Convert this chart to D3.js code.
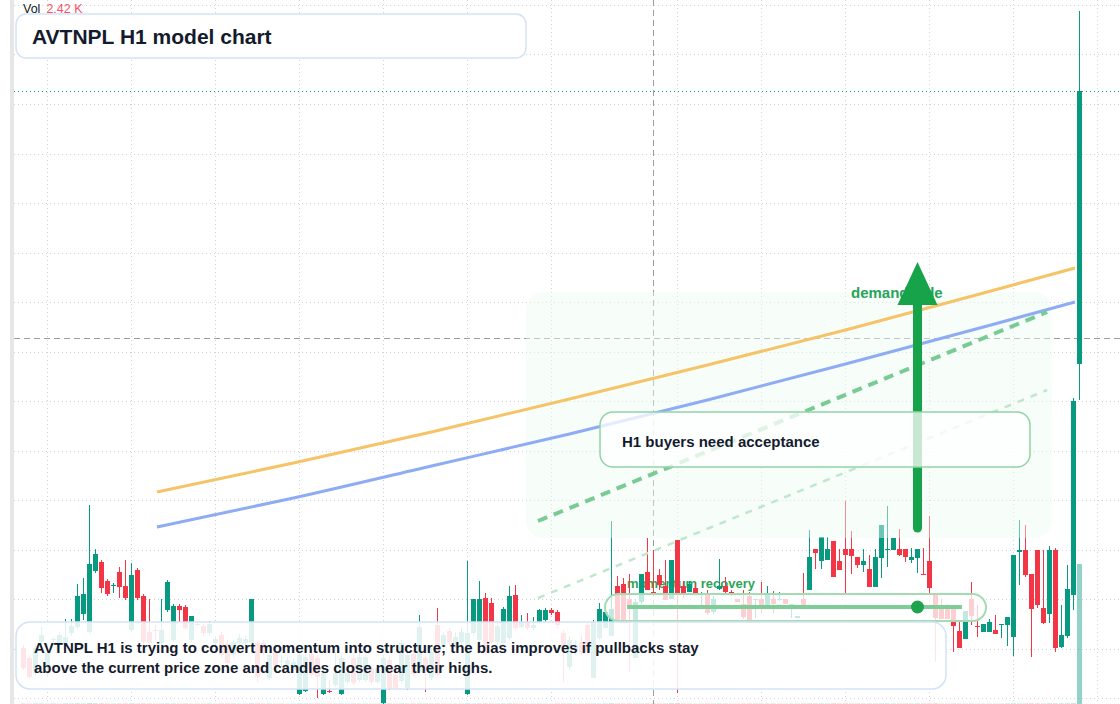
<!DOCTYPE html>
<html><head><meta charset="utf-8">
<script src="https://cdn.jsdelivr.net/npm/d3@7"></script>
<style>
html,body{margin:0;padding:0;background:#fff;overflow:hidden}
svg{display:block}
text{font-family:"Liberation Sans",Arial,Helvetica,sans-serif}
</style>
</head><body>
<svg id="c" width="1120" height="704"></svg>
<script>
// ---- data (hourly bars, oldest first) ----
const open = [
550,540,525,556,533,558,555,553,565,571,
584,566,627,636,617,612,626,612,568,628,
602,566,568,555,588,558,592,591,558,573,
572,565,555,563,555,543,555,555,555,555,
555,520,545,536,533,528,504,507,544,540,
504,507,513,504,516,540,518,518,530,516,
495,538,523,517,510,544,526,540,520,573,
551,567,553,556,504,565,558,600,595,556,
555,560,603,571,576,570,576,578,588,586,
565,531,548,556,573,520,560,570,562,612,
614,599,540,596,626,606,623,612,599,658,
612,606,610,603,604,586,609,612,606,599,
594,602,598,599,590,599,598,599,593,580,
599,608,649,637,638,657,637,649,649,641,
633,629,611,640,648,648,649,649,638,640,
624,637,603,591,593,593,567,559,599,572,
566,566,568,573,573,561,646,648,624,648,
590,584,648,551,562,603,834];
const close = [
530,521,550,563,545,559,563,561,572,602,
604,634,644,610,604,613,611,600,623,600,
556,555,567,568,616,592,588,570,582,574,
565,574,559,543,535,556,560,559,599,521,
546,543,533,537,538,536,543,541,523,521,
525,506,525,540,525,515,541,541,516,530,
540,510,510,555,543,524,571,528,546,523,
563,556,561,566,565,599,599,545,556,572,
589,602,570,576,570,573,588,588,585,573,
551,558,553,546,546,575,589,586,589,578,
575,590,596,624,608,604,613,598,638,604,
604,614,604,604,585,599,612,606,603,596,
581,575,599,590,604,594,599,594,594,582,
590,641,645,661,649,621,628,643,642,633,
637,611,641,673,649,660,643,641,641,649,
623,610,580,579,579,572,550,587,582,571,
574,576,564,574,581,643,648,623,589,593,
575,648,550,563,609,797,1107];
const high = [
553,543,553,571,553,561,566,579,579,614,
620,693,649,638,619,615,631,638,635,630,
604,599,573,599,618,594,594,593,582,575,
574,577,562,566,558,558,564,562,599,558,
558,546,548,543,541,540,548,544,548,543,
528,518,546,543,528,543,548,543,533,533,
543,541,526,558,546,548,583,543,550,590,
566,570,566,570,637,599,617,605,600,576,
591,612,613,583,585,581,589,590,590,588,
568,562,558,563,576,578,595,595,677,622,
620,624,599,624,660,648,629,638,638,658,
617,617,615,606,608,602,639,621,608,599,
608,606,599,616,612,607,606,599,594,582,
625,668,649,661,661,657,649,697,667,641,
649,643,649,673,692,660,669,649,650,649,
650,682,603,599,594,593,576,587,616,593,
574,579,583,574,581,643,678,673,624,648,
648,652,650,593,633,800,1187];
const low = [
528,519,523,550,521,556,552,550,562,569,
578,564,625,605,602,605,600,598,566,598,
554,553,558,553,586,556,576,568,556,572,
562,562,553,540,533,540,553,553,553,516,
543,518,530,531,530,525,503,506,520,500,
503,505,511,503,514,513,516,516,514,514,
494,508,509,514,508,522,524,506,518,521,
548,553,550,553,503,562,556,543,554,553,
553,558,568,570,568,568,574,576,583,570,
516,528,543,543,543,520,558,570,562,576,
575,526,540,594,608,602,608,598,599,505,
600,606,603,590,583,584,608,604,602,596,
579,575,580,585,590,585,597,594,580,580,
590,608,629,629,638,621,628,605,624,630,
626,611,611,620,631,648,642,636,635,625,
623,604,536,579,579,546,550,559,573,561,
566,566,564,560,552,542,613,621,541,590,
574,575,546,550,560,588,798];
const volume = [
5,4,6,5,4,5,3,6,5,7,
6,9,7,6,5,4,5,6,7,5,
6,5,4,5,6,5,4,5,4,3,
4,5,4,5,6,5,4,4,7,6,
5,5,4,4,3,4,6,5,5,6,
4,4,5,5,4,5,5,4,4,4,
6,5,4,5,5,5,6,5,5,6,
4,4,4,4,7,5,6,6,5,4,
5,6,5,4,4,4,5,4,4,5,
6,5,4,4,5,5,5,5,8,5,
5,6,5,5,6,5,5,5,8,9,
5,4,4,4,5,5,6,5,4,4,
5,6,5,5,5,5,4,4,5,4,
5,6,6,6,6,7,5,7,6,5,
5,6,6,6,6,5,5,5,5,6,
5,6,7,4,4,5,5,4,5,4,
4,4,4,4,5,7,6,6,7,6,
6,7,7,6,7,9,2420];
const lastVolumeLabel = "2.42 K";

// moving averages (sampled along their path: bar index, price)
const maIndex  = [22.25, 45, 68, 91, 114, 137, 160, 175.25];
const maOrange = [706, 735, 766, 799, 833, 868, 905, 930];
const maBlue   = [671, 700, 732, 764, 798, 834, 871, 896];

// grid ticks
const timeGridTicks  = [4, 18, 32, 46, 60, 74, 88, 109, 123, 137, 151, 165, 179];
const priceGridTicks = [500, 549.5, 599, 648.5, 698, 747.5, 797, 846.5, 896, 945.5, 995, 1044.5, 1094, 1143.5, 1193];

// annotations (bar index, price)
const crosshair   = {bar: 105, price: 860};
const demandZone  = {bar0: 83.75, bar1: 171.4, price0: 660, price1: 906};
const trendMain   = [[85.75, 677], [170.6, 886]];
const trendLight  = [[85.75, 600], [170.6, 808]];
const demandArrow = {bar: 149, from: 670, to: 936};
const recoveryLine = {bar0: 100.6, bar1: 156.4, price: 591, dotBar: 149};

const titleText = "AVTNPL H1 model chart";
const noteText = ["AVTNPL H1 is trying to convert momentum into structure; the bias improves if pullbacks stay",
                  "above the current price zone and candles close near their highs."];
const calloutText = "H1 buyers need acceptance";
const zoneLabel = "demand side";
const recoveryLabel = "momentum recovery";

// ---- drawing ----
const W = 1120, H = 704;
const UP = "#089981", DOWN = "#f23645";
const svg = d3.select("#c");
const n = open.length;
const x = d3.scaleLinear().domain([0, n - 1]).range([23.5, 1079.5]);
const y = d3.scaleLinear().domain([494, 1198]).range([704, 0]);
const yVol = d3.scaleLinear().domain([0, d3.max(volume)]).range([704, 564]);
const bars = d3.range(n).map(i => ({i, o: open[i], h: high[i], l: low[i], c: close[i], v: volume[i]}));

svg.append("rect").attr("width", W).attr("height", H).attr("fill", "#fff");
svg.append("rect").attr("x", 10).attr("y", 0).attr("width", 4).attr("height", H).attr("fill", "#e6e6e6");

const grid = svg.append("g").attr("stroke", "#cfd2d6").attr("stroke-dasharray", "1,3").attr("shape-rendering", "crispEdges");
grid.selectAll(".gx").data(timeGridTicks).join("line")
  .attr("x1", d => x(d)).attr("x2", d => x(d)).attr("y1", 0).attr("y2", H);
grid.selectAll(".gy").data(priceGridTicks).join("line")
  .attr("x1", 14).attr("x2", W).attr("y1", d => Math.round(y(d)) + 0.5).attr("y2", d => Math.round(y(d)) + 0.5);

// crosshair
const ch = svg.append("g").attr("stroke", "#9a9da3").attr("stroke-dasharray", "6,4");
ch.append("line").attr("x1", x(crosshair.bar)).attr("x2", x(crosshair.bar)).attr("y1", 0).attr("y2", H);
ch.append("line").attr("x1", 14).attr("x2", W).attr("y1", y(crosshair.price) + 0.5).attr("y2", y(crosshair.price) + 0.5);

// volume
svg.append("g").selectAll("rect").data(bars).join("rect")
  .attr("x", d => x(d.i) - 2.5).attr("width", 5)
  .attr("y", d => yVol(d.v)).attr("height", d => yVol(0) - yVol(d.v))
  .attr("fill", d => d.c >= d.o ? UP : DOWN).attr("fill-opacity", 0.44);

// label under candles
svg.append("text").attr("x", x(recoveryLine.bar0)).attr("y", 588)
  .attr("font-size", 13).attr("font-weight", 700).attr("fill", "#2ea55a").text(recoveryLabel);

// candles
const cg = svg.append("g").attr("shape-rendering", "crispEdges");
cg.selectAll("line").data(bars).join("line")
  .attr("x1", d => x(d.i)).attr("x2", d => x(d.i))
  .attr("y1", d => y(Math.max(d.h, d.o, d.c))).attr("y2", d => y(Math.min(d.l, d.o, d.c)))
  .attr("stroke", d => d.c >= d.o ? UP : DOWN).attr("stroke-width", 1);
cg.selectAll("rect").data(bars).join("rect")
  .attr("x", d => x(d.i) - 2.5).attr("width", 5)
  .attr("y", d => y(Math.max(d.o, d.c)))
  .attr("height", d => Math.max(1, y(Math.min(d.o, d.c)) - y(Math.max(d.o, d.c))))
  .attr("fill", d => d.c >= d.o ? UP : DOWN);

// demand zone
svg.append("rect")
  .attr("x", x(demandZone.bar0)).attr("width", x(demandZone.bar1) - x(demandZone.bar0))
  .attr("y", y(demandZone.price1)).attr("height", y(demandZone.price0) - y(demandZone.price1))
  .attr("rx", 18).attr("fill", "#eefbf2").attr("fill-opacity", 0.45);

// moving averages
const maLine = d3.line().x(d => x(d[0])).y(d => y(d[1])).curve(d3.curveMonotoneX);
svg.append("path").attr("d", maLine(maIndex.map((b, k) => [b, maOrange[k]])))
  .attr("fill", "none").attr("stroke", "#f6c367").attr("stroke-width", 3);
svg.append("path").attr("d", maLine(maIndex.map((b, k) => [b, maBlue[k]])))
  .attr("fill", "none").attr("stroke", "#8eacf4").attr("stroke-width", 3);

// trend projections
const tl = d3.line().x(d => x(d[0])).y(d => y(d[1]));
svg.append("path").attr("d", tl(trendLight)).attr("fill", "none")
  .attr("stroke", "#bfe7cc").attr("stroke-width", 2.5).attr("stroke-dasharray", "7,7");
svg.append("path").attr("d", tl(trendMain)).attr("fill", "none")
  .attr("stroke", "#78cc93").attr("stroke-width", 4).attr("stroke-dasharray", "10,7");

// demand label + arrow
svg.append("text").attr("x", 851).attr("y", 298).attr("font-size", 15).attr("font-weight", 700)
  .attr("fill", "#27a35a").text(zoneLabel);
const ax = x(demandArrow.bar);
svg.append("line").attr("x1", ax).attr("x2", ax).attr("y1", y(demandArrow.from)).attr("y2", y(demandArrow.to) + 40)
  .attr("stroke", "#17a34a").attr("stroke-width", 9).attr("stroke-linecap", "round");
svg.append("path")
  .attr("d", `M${ax},${y(demandArrow.to)} L${ax + 20},${y(demandArrow.to) + 43} L${ax - 20},${y(demandArrow.to) + 43} Z`)
  .attr("fill", "#17a34a");

// last price line
svg.append("line").attr("x1", 14).attr("x2", W).attr("y1", y(close[n - 1]) + 0.5).attr("y2", y(close[n - 1]) + 0.5)
  .attr("stroke", UP).attr("stroke-dasharray", "1,3");

// recovery pill
svg.append("rect").attr("x", 605).attr("y", 594).attr("width", 381).attr("height", 27).attr("rx", 13.5)
  .attr("fill", "#fff").attr("fill-opacity", 0.76).attr("stroke", "#a3dbb3").attr("stroke-width", 2);
svg.append("line").attr("x1", x(recoveryLine.bar0)).attr("x2", x(recoveryLine.bar1))
  .attr("y1", y(recoveryLine.price)).attr("y2", y(recoveryLine.price))
  .attr("stroke", "#7fcd96").attr("stroke-width", 4);
svg.append("circle").attr("cx", x(recoveryLine.dotBar)).attr("cy", y(recoveryLine.price)).attr("r", 6.5)
  .attr("fill", "#1fa34c");

// callout box
svg.append("rect").attr("x", 600).attr("y", 412).attr("width", 430).attr("height", 55).attr("rx", 13)
  .attr("fill", "#fff").attr("fill-opacity", 0.76).attr("stroke", "#93d4a6").attr("stroke-width", 1.5);
svg.append("text").attr("x", 622).attr("y", 447).attr("font-size", 15).attr("font-weight", 700)
  .attr("fill", "#141b2d").text(calloutText);

// note box
svg.append("rect").attr("x", 16).attr("y", 622).attr("width", 930).attr("height", 67).attr("rx", 14)
  .attr("fill", "#fff").attr("fill-opacity", 0.87).attr("stroke", "#d3e2f7").attr("stroke-width", 1.5);
svg.append("g").selectAll("text").data(noteText).join("text")
  .attr("x", 34).attr("y", (d, k) => 653 + k * 20).attr("font-size", 15).attr("font-weight", 700)
  .attr("fill", "#141b2d").text(d => d);

// title box
svg.append("rect").attr("x", 16).attr("y", 14).attr("width", 510).attr("height", 44).attr("rx", 10)
  .attr("fill", "#fff").attr("stroke", "#d3e2f7").attr("stroke-width", 1.5);
svg.append("text").attr("x", 32).attr("y", 44).attr("font-size", 21).attr("font-weight", 700)
  .attr("fill", "#131b2c").text(titleText);

// volume legend
const lg = svg.append("text").attr("x", 23).attr("y", 13).attr("font-size", 12.5);
lg.append("tspan").attr("fill", "#131722").text("Vol");
lg.append("tspan").attr("dx", 6).attr("fill", "#f7525f").text(lastVolumeLabel);
</script>
</body></html>
